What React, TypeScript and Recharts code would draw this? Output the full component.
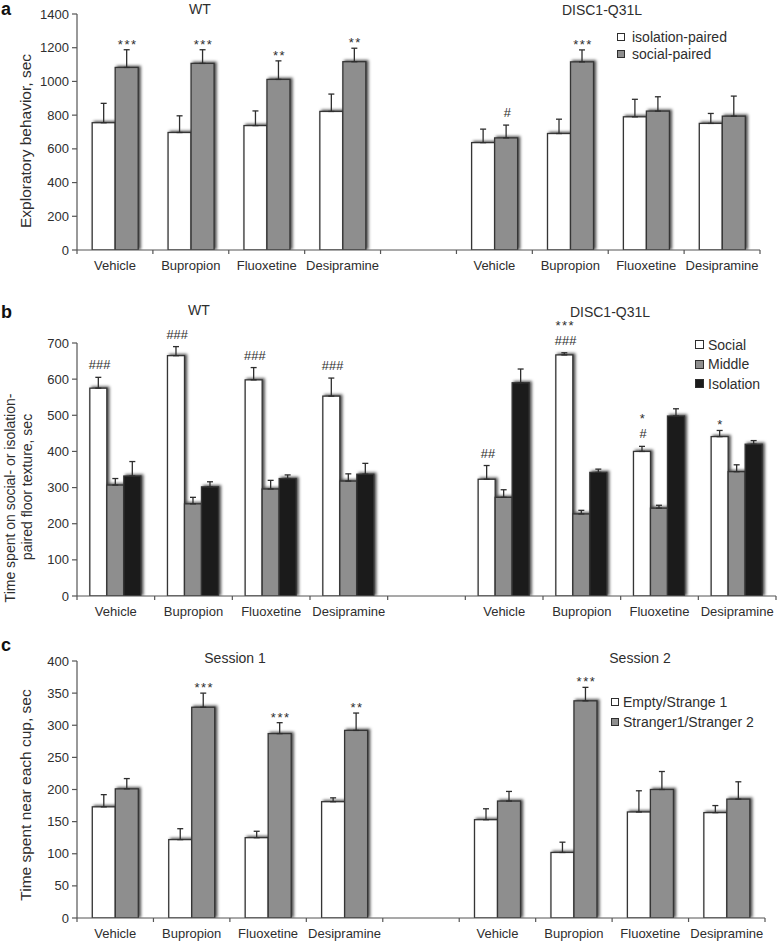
import React from 'react';
import { BarChart, Bar, XAxis, YAxis, ErrorBar, LabelList, Legend, Label } from 'recharts';

const FONT = '"Liberation Sans", Arial, Helvetica, sans-serif';
const INK = '#2e2e2e';
const AXIS = '#555555';
const WHITE = '#ffffff';
const GRAY = '#8e8e8e';
const BLACK = '#1b1b1b';
const STROKE = '#353535';

// ---------- shared categories ----------
const categories = ['Vehicle', 'Bupropion', 'Fluoxetine', 'Desipramine', '', 'Vehicle', 'Bupropion', 'Fluoxetine', 'Desipramine'];

// ---------- panel a ----------
const aNames = ['isolation-paired', 'social-paired'];
const aIsolation = [755, 697, 738, 822, null, 637, 691, 790, 751];
const aIsolationErr = [115, 99, 87, 103, null, 80, 85, 104, 59];
const aIsolationMarks = ['', '', '', '', '', '', '', '', ''];
const aSocial = [1083, 1107, 1012, 1117, null, 665, 1116, 824, 794];
const aSocialErr = [105, 81, 110, 80, null, 76, 71, 85, 119];
const aSocialMarks = ['***', '***', '**', '**', '', '#', '***', '', ''];
const aTicks = [0, 200, 400, 600, 800, 1000, 1200, 1400];

// ---------- panel b ----------
const bNames = ['Social', 'Middle', 'Isolation'];
const bSocial = [575, 665, 598, 553, null, 323, 667, 400, 441];
const bSocialErr = [30, 25, 34, 50, null, 38, 6, 14, 17];
const bSocialMarks = ['###', '###', '###', '###', '', '##', '***\n###', '*\n#', '*'];
const bMiddle = [307, 255, 296, 318, null, 273, 227, 243, 344];
const bMiddleErr = [18, 18, 24, 20, null, 21, 10, 8, 19];
const bIsolation = [332, 302, 325, 337, null, 590, 342, 498, 420];
const bIsolationErr = [40, 14, 10, 30, null, 38, 9, 20, 10];
const bNoMarks = ['', '', '', '', '', '', '', '', ''];
const bTicks = [0, 100, 200, 300, 400, 500, 600, 700];

// ---------- panel c ----------
const cNames = ['Empty/Strange 1', 'Stranger1/Stranger 2'];
const cEmpty = [173, 122, 125, 181, null, 153, 102, 165, 164];
const cEmptyErr = [19, 17, 10, 6, null, 17, 16, 33, 11];
const cStranger = [201, 328, 287, 292, null, 182, 338, 200, 185];
const cStrangerErr = [16, 22, 17, 27, null, 15, 21, 28, 27];
const cStrangerMarks = ['', '***', '***', '**', '', '', '***', '', ''];
const cNoMarks = ['', '', '', '', '', '', '', '', ''];
const cTicks = [0, 50, 100, 150, 200, 250, 300, 350, 400];

type Series = { name: string; fill: string; vals: (number | null)[]; errs: (number | null)[]; marks: string[] };

function buildRows(series: Series[]) {
  return categories.map((c, i) => {
    const row: any = { key: `c${i}`, name: c };
    series.forEach((s, j) => {
      row[`v${j}`] = s.vals[i];
      row[`e${j}`] = s.errs[i] == null ? undefined : [0, s.errs[i]];
      row[`m${j}`] = { mark: s.marks[i], v: s.vals[i], e: s.errs[i] };
    });
    return row;
  });
}

const ShadowRect = (props: any) => {
  const { x, y, width, height, fill } = props;
  if (!height || height <= 0 || !width) return null;
  return (
    <rect
      x={x}
      y={y}
      width={width}
      height={height}
      fill={fill}
      stroke={STROKE}
      strokeWidth={1.3}
      style={{ filter: 'drop-shadow(2px -1px 1.6px rgba(0,0,0,0.7))' }}
    />
  );
};

const markContent = (props: any) => {
  const val = props.value;
  if (!val || !val.mark || val.v == null) return null;
  const vb = props.viewBox || props;
  const x = Number(vb.x);
  const y = Number(vb.y);
  const w = Number(vb.width);
  const h = Number(vb.height);
  const pxPerUnit = Math.abs(h) / val.v;
  const errTop = Math.min(y, y + h) - pxPerUnit * (val.e || 0);
  const cx = x + w / 2 + 1;
  const lines = String(val.mark).split('\n');
  let baseline = errTop - (lines[lines.length - 1].startsWith('#') ? 8 : 1);
  const out: any[] = [];
  for (let k = lines.length - 1; k >= 0; k--) {
    const t = lines[k];
    const hash = t.startsWith('#');
    out.push(
      <text
        key={k}
        x={cx}
        y={baseline}
        textAnchor="middle"
        fontFamily={FONT}
        fontSize={13}
        fontStyle={hash ? 'italic' : 'normal'}
        letterSpacing={hash ? 0 : 1.5}
        fill={INK}
      >
        {t}
      </text>
    );
    baseline -= 15;
  }
  return <g>{out}</g>;
};

const makeTick = (slot: number) => (props: any) => {
  const { x, y, index } = props;
  const label = categories[index] ?? '';
  return (
    <g>
      <line x1={x - slot / 2} x2={x - slot / 2} y1={y} y2={y + 4} stroke={AXIS} strokeWidth={1.2} />
      {index === categories.length - 1 && (
        <line x1={x + slot / 2} x2={x + slot / 2} y1={y} y2={y + 4} stroke={AXIS} strokeWidth={1.2} />
      )}
      <text x={x} y={y + 15} dy="0.35em" textAnchor="middle" fontFamily={FONT} fontSize={13} fill={INK}>
        {label}
      </text>
    </g>
  );
};

const makeLegend = (order: string[], rowH: number, sq: number, gap: number, fontSize: number) => (props: any) => {
  const payload = [...(props.payload || [])].sort(
    (a: any, b: any) => order.indexOf(String(a.value)) - order.indexOf(String(b.value))
  );
  return (
    <div style={{ fontFamily: FONT, fontSize, color: INK }}>
      {payload.map((p: any) => (
        <div key={p.value} style={{ display: 'flex', alignItems: 'center', height: rowH, whiteSpace: 'nowrap' }}>
          <span
            style={{
              display: 'inline-block',
              width: sq,
              height: sq,
              border: `1.3px solid ${INK}`,
              background: p.color,
              boxSizing: 'border-box',
              marginRight: gap,
            }}
          />
          <span>{p.value}</span>
        </div>
      ))}
    </div>
  );
};

type PanelProps = {
  top: number;
  height: number;
  margin: { top: number; right: number; bottom: number; left: number };
  xAxisHeight: number;
  yMax: number;
  yTicks: number[];
  series: Series[];
  gap: string;
  yLabel: (p: any) => any;
  legendPos: { left: number; top: number };
  legendFn: (p: any) => any;
};

const CHART_W = 780;
const Y_W = 60;

function Panel(p: PanelProps) {
  const rows = buildRows(p.series);
  const plotW = CHART_W - p.margin.left - p.margin.right - Y_W;
  const slot = plotW / categories.length;
  return (
    <div style={{ position: 'absolute', left: 0, top: p.top, width: CHART_W, height: p.height }}>
      <BarChart width={CHART_W} height={p.height} data={rows} margin={p.margin} barCategoryGap={p.gap} barGap={0}>
        <XAxis
          dataKey="key"
          type="category"
          interval={0}
          height={p.xAxisHeight}
          tickSize={0}
          tickMargin={0}
          tickLine={false}
          axisLine={{ stroke: AXIS, strokeWidth: 1.2 }}
          tick={makeTick(slot)}
        />
        <YAxis
          width={Y_W}
          domain={[0, p.yMax]}
          ticks={p.yTicks}
          allowDataOverflow
          tickSize={5}
          tickMargin={3}
          axisLine={{ stroke: AXIS, strokeWidth: 1.2 }}
          tickLine={{ stroke: AXIS, strokeWidth: 1.2 }}
          tick={{ fontSize: 13, fill: INK, fontFamily: FONT }}
        >
          <Label content={p.yLabel} />
        </YAxis>
        <Legend
          layout="vertical"
          align="center"
          verticalAlign="middle"
          content={p.legendFn}
          wrapperStyle={{ left: p.legendPos.left, top: p.legendPos.top, right: 'auto', bottom: 'auto', width: 'auto', height: 'auto' }}
        />
        {p.series.map((s, j) => (
          <Bar
            key={s.name}
            name={s.name}
            dataKey={`v${j}`}
            fill={s.fill}
            stroke={STROKE}
            legendType="square"
            isAnimationActive={false}
            shape={ShadowRect}
          >
            <ErrorBar dataKey={`e${j}`} width={3} stroke={INK} strokeWidth={1.3} />
            <LabelList dataKey={(d: any) => d[`m${j}`]} content={markContent} />
          </Bar>
        ))}
      </BarChart>
    </div>
  );
}

const rotText = (cx: number, cy: number, text: string, size: number) => (
  <text
    key={text}
    x={cx}
    y={cy}
    transform={`rotate(-90, ${cx}, ${cy})`}
    textAnchor="middle"
    dominantBaseline="central"
    fontFamily={FONT}
    fontSize={size}
    fill={INK}
  >
    {text}
  </text>
);

const Title = ({ x, y, text }: { x: number; y: number; text: string }) => (
  <div
    style={{
      position: 'absolute',
      left: x,
      top: y,
      transform: 'translate(-50%, -50%)',
      fontFamily: FONT,
      fontSize: 14,
      lineHeight: '14px',
      color: INK,
      whiteSpace: 'nowrap',
    }}
  >
    {text}
  </div>
);

const Letter = ({ x, y, text }: { x: number; y: number; text: string }) => (
  <div
    style={{
      position: 'absolute',
      left: x,
      top: y,
      fontFamily: FONT,
      fontSize: 18,
      fontWeight: 'bold',
      lineHeight: '18px',
      color: '#111',
    }}
  >
    {text}
  </div>
);

export default function App() {
  const aSeries: Series[] = [
    { name: aNames[0], fill: WHITE, vals: aIsolation, errs: aIsolationErr, marks: aIsolationMarks },
    { name: aNames[1], fill: GRAY, vals: aSocial, errs: aSocialErr, marks: aSocialMarks },
  ];
  const bSeries: Series[] = [
    { name: bNames[0], fill: WHITE, vals: bSocial, errs: bSocialErr, marks: bSocialMarks },
    { name: bNames[1], fill: GRAY, vals: bMiddle, errs: bMiddleErr, marks: bNoMarks },
    { name: bNames[2], fill: BLACK, vals: bIsolation, errs: bIsolationErr, marks: bNoMarks },
  ];
  const cSeries: Series[] = [
    { name: cNames[0], fill: WHITE, vals: cEmpty, errs: cEmptyErr, marks: cNoMarks },
    { name: cNames[1], fill: GRAY, vals: cStranger, errs: cStrangerErr, marks: cStrangerMarks },
  ];

  return (
    <div style={{ position: 'absolute', left: 0, top: 0, width: 780, height: 943, background: '#fff', fontFamily: FONT, overflow: 'hidden' }}>
      <Panel
        top={0}
        height={290}
        margin={{ top: 14, right: 20, bottom: 10, left: 17 }}
        xAxisHeight={30}
        yMax={1400}
        yTicks={aTicks}
        series={aSeries}
        gap="20%"
        yLabel={() => rotText(25, 141, 'Exploratory behavior, sec', 15.5)}
        legendPos={{ left: 617, top: 28 }}
        legendFn={makeLegend(aNames, 17, 8, 7, 14)}
      />
      <Panel
        top={300}
        height={330}
        margin={{ top: 43, right: 4, bottom: 4, left: 17 }}
        xAxisHeight={30}
        yMax={700}
        yTicks={bTicks}
        series={bSeries}
        gap="16.5%"
        yLabel={() => (
          <g>
            {rotText(10, 198, 'Time spent on social- or isolation-', 14)}
            {rotText(27, 187, 'paired floor texture, sec', 14)}
          </g>
        )}
        legendPos={{ left: 695, top: 35 }}
        legendFn={makeLegend(bNames, 19.5, 9, 4, 14)}
      />
      <Panel
        top={630}
        height={313}
        margin={{ top: 31, right: 15, bottom: 0, left: 17 }}
        xAxisHeight={25}
        yMax={400}
        yTicks={cTicks}
        series={cSeries}
        gap="20%"
        yLabel={() => rotText(25, 165, 'Time spent near each cup, sec', 15.5)}
        legendPos={{ left: 611, top: 62 }}
        legendFn={makeLegend(cNames, 20, 8, 4, 14)}
      />
      <Title x={200} y={9} text="WT" />
      <Title x={602} y={10} text="DISC1-Q31L" />
      <Title x={199} y={310} text="WT" />
      <Title x={610} y={312} text="DISC1-Q31L" />
      <Title x={235} y={658} text="Session 1" />
      <Title x={640} y={658} text="Session 2" />
      <Letter x={1} y={0} text="a" />
      <Letter x={1} y={303} text="b" />
      <Letter x={1} y={636} text="c" />
    </div>
  );
}
